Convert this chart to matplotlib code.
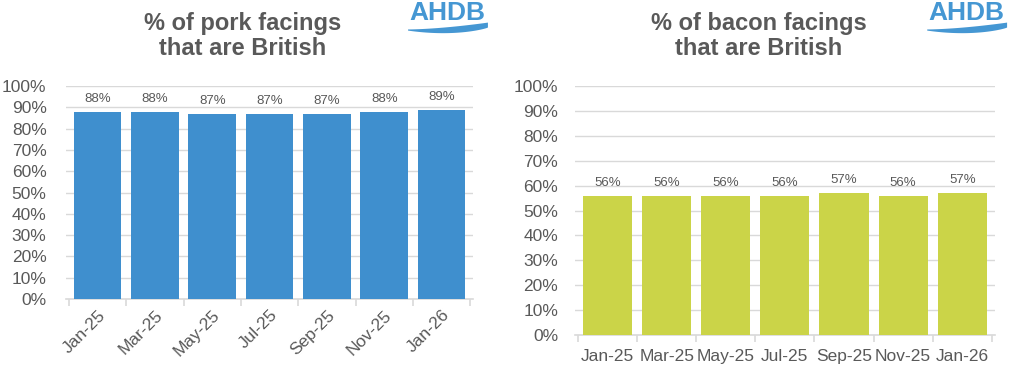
"""Share of pork and bacon facings that are British (AHDB style bar charts)."""

import matplotlib.pyplot as plt
import numpy as np
from matplotlib.ticker import FuncFormatter, MultipleLocator

months = ["Jan-25", "Mar-25", "May-25", "Jul-25", "Sep-25", "Nov-25", "Jan-26"]
pork_british = [88, 88, 87, 87, 87, 88, 89]
bacon_british = [56, 56, 56, 56, 57, 56, 57]

PORK_BLUE = "#3F8FCE"
BACON_GREEN = "#CBD448"
LOGO_BLUE = "#4597D3"
TEXT_GREY = "#595959"
GRID_GREY = "#D9D9D9"

plt.rcParams["font.family"] = ["Liberation Sans", "DejaVu Sans"]


def draw_panel(fig, rect, values, colour, rotate, ypad):
    ax = fig.add_axes(rect)
    x = np.arange(len(months))
    ax.bar(x, values, width=0.83, color=colour, zorder=3)
    for xi, v in zip(x, values):
        ax.annotate(f"{v}%", (xi, v), xytext=(0, 5), textcoords="offset points",
                    ha="center", va="bottom", fontsize=9.5, color=TEXT_GREY)

    ax.set_xlim(-0.55, len(months) - 0.45)
    ax.set_ylim(0, 100)
    ax.yaxis.set_major_locator(MultipleLocator(10))
    ax.yaxis.set_major_formatter(FuncFormatter(lambda v, _: f"{v:.0f}%"))
    ax.grid(axis="y", color=GRID_GREY, linewidth=1, zorder=0)

    for side in ["top", "right", "left"]:
        ax.spines[side].set_visible(False)
    ax.spines["bottom"].set_color(GRID_GREY)
    ax.spines["bottom"].set_linewidth(1.2)

    ax.set_xticks(x)
    ax.set_xticks(np.arange(len(months) + 1) - 0.5, minor=True)
    ax.tick_params(axis="x", which="minor", length=5, color=GRID_GREY, width=1.2)
    ax.tick_params(axis="y", length=0, pad=ypad, labelsize=12.5, labelcolor=TEXT_GREY)
    if rotate:
        ax.tick_params(axis="x", which="major", length=0, pad=6)
        ax.set_xticklabels(months, rotation=45, ha="right", rotation_mode="anchor",
                           fontsize=12.5, color=TEXT_GREY)
    else:
        ax.tick_params(axis="x", which="major", length=0, pad=10)
        ax.set_xticklabels(months, fontsize=12.5, color=TEXT_GREY)
    return ax


def draw_logo(overlay, x0):
    # AHDB word mark with a swoosh under it (figure fraction coordinates)
    overlay.text(x0 + 0.002, 0.947, "AHDB", fontsize=19, fontweight="bold",
                 color=LOGO_BLUE, ha="left", va="baseline")
    t = np.linspace(0, 1, 60)
    xs = x0 + 0.078 * t
    top = 0.924 + 0.018 * t ** 1.6
    bot = 0.921 - 0.030 * t * (1 - t) ** 0.8 + 0.008 * t ** 2
    overlay.fill_between(xs, bot, top, color=LOGO_BLUE, lw=0)


fig = plt.figure(figsize=(10.24, 3.81), dpi=100)

draw_panel(fig, [0.0645, 0.215, 0.3975, 0.559], pork_british, PORK_BLUE,
           rotate=True, ypad=14)
draw_panel(fig, [0.5615, 0.121, 0.410, 0.653], bacon_british, BACON_GREEN,
           rotate=False, ypad=12)

fig.text(0.237, 0.905, "% of pork facings\nthat are British", ha="center", va="center",
         fontsize=17, fontweight="bold", color=TEXT_GREY, linespacing=1.1)
fig.text(0.741, 0.905, "% of bacon facings\nthat are British", ha="center", va="center",
         fontsize=17, fontweight="bold", color=TEXT_GREY, linespacing=1.1)

overlay = fig.add_axes([0, 0, 1, 1], facecolor="none")
overlay.set_xlim(0, 1)
overlay.set_ylim(0, 1)
overlay.axis("off")
draw_logo(overlay, 0.398)
draw_logo(overlay, 0.905)

fig.savefig("out.png", dpi=100)
